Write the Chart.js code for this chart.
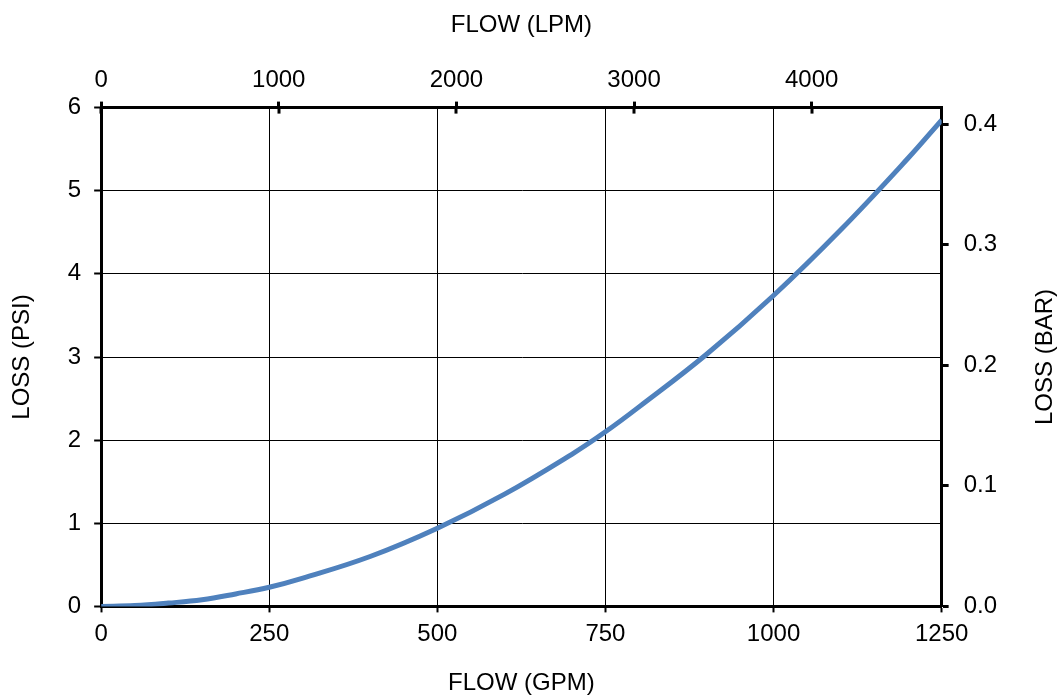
<!DOCTYPE html>
<html>
<head>
<meta charset="utf-8">
<script src="https://cdn.jsdelivr.net/npm/chart.js@4.4.1/dist/chart.umd.min.js"></script>
<style>
  html, body { margin: 0; padding: 0; background: #fff; }
  #wrap { width: 1064px; height: 698px; }
</style>
</head>
<body>
<div id="wrap"><canvas id="c" width="1064" height="698"></canvas></div>
<script>
// flow in GPM, loss in PSI
gpm  = [0, 50, 100, 150, 200, 250, 300, 400, 500, 600, 700, 750, 800, 900, 1000, 1100, 1200, 1250]
psi  = [0, 0.01, 0.04, 0.08, 0.15, 0.23, 0.34, 0.6, 0.94, 1.35, 1.83, 2.1, 2.4, 3.03, 3.74, 4.53, 5.39, 5.85]

gpmTicks = [0, 250, 500, 750, 1000, 1250]
psiTicks = [0, 1, 2, 3, 4, 5, 6]
lpmTicks = [0, 1000, 2000, 3000, 4000]
barTicks = [0, 0.1, 0.2, 0.3, 0.4]

LPM_PER_GPM = 3.78541
PSI_PER_BAR = 14.5038

pts = []
for (i = 0; i < gpm.length; i++) {
    pts.push({x: gpm[i], y: psi[i]})
}

fam = "'Liberation Sans', Arial, sans-serif"
font = {family: fam, size: 24}
black = '#000'

function setTicks(list) {
    return function(scale) {
        scale.ticks = list.map(v => ({value: v}))
    }
}

// short tick marks inside the top axis + right axis title (reads bottom to top)
extras = {
    id: 'extras',
    afterDraw(chart) {
        const s = chart.scales.x2
        const g = chart.ctx
        g.save()
        g.strokeStyle = black
        g.lineWidth = 3
        lpmTicks.forEach(v => {
            const px = Math.round(s.getPixelForValue(v))
            g.beginPath()
            g.moveTo(px, s.bottom)
            g.lineTo(px, s.bottom + 6)
            g.stroke()
        })
        const a = chart.chartArea
        g.translate(1045, (a.top + a.bottom) / 2)
        g.rotate(-Math.PI / 2)
        g.fillStyle = black
        g.font = '24px ' + fam
        g.textAlign = 'center'
        g.textBaseline = 'middle'
        g.fillText('LOSS (BAR)', 0, 0)
        g.restore()
    }
}

new Chart(document.getElementById('c').getContext('2d'), {
    type: 'scatter',
    data: {
        datasets: [{
            data: pts,
            showLine: true,
            borderColor: '#4f81bd',
            borderWidth: 5,
            pointRadius: 0,
            tension: 0.4,
            xAxisID: 'x',
            yAxisID: 'y'
        }]
    },
    options: {
        responsive: false,
        animation: false,
        layout: {padding: {left: 8, right: 52, top: 11, bottom: 0}},
        plugins: {legend: {display: false}, tooltip: {enabled: false}},
        scales: {
            x: {
                type: 'linear', position: 'bottom', min: 0, max: 1250,
                afterBuildTicks: setTicks(gpmTicks),
                grid: {color: black, lineWidth: 1, tickLength: 6, tickColor: black, tickWidth: 2},
                border: {color: black, width: 3},
                ticks: {color: black, font: font, padding: 8, maxRotation: 0, callback: v => String(v)},
                title: {display: true, text: 'FLOW (GPM)', color: black, font: font, padding: {top: 12, bottom: 0}}
            },
            x2: {
                type: 'linear', position: 'top', min: 0, max: 1250 * LPM_PER_GPM,
                afterBuildTicks: setTicks(lpmTicks),
                grid: {drawOnChartArea: false, tickLength: 6, tickColor: black, tickWidth: 3},
                border: {color: black, width: 3},
                ticks: {color: black, font: font, padding: 7, maxRotation: 0, callback: v => String(v)},
                title: {display: true, text: 'FLOW (LPM)', color: black, font: font, padding: {top: 0, bottom: 19}}
            },
            y: {
                type: 'linear', position: 'left', min: 0, max: 6,
                afterBuildTicks: setTicks(psiTicks),
                grid: {color: black, lineWidth: 1, tickLength: 7, tickColor: black, tickWidth: 2},
                border: {color: black, width: 3},
                ticks: {color: black, font: font, padding: 13},
                title: {display: true, text: 'LOSS (PSI)', color: black, font: font, padding: {top: 0, bottom: 18}}
            },
            y2: {
                type: 'linear', position: 'right', min: 0, max: 6 / PSI_PER_BAR,
                afterBuildTicks: setTicks(barTicks),
                grid: {drawOnChartArea: false, tickLength: 7, tickColor: black, tickWidth: 3},
                border: {color: black, width: 3},
                ticks: {color: black, font: font, padding: 15, callback: v => v.toFixed(1)}
            }
        }
    },
    plugins: [extras]
})
</script>
</body>
</html>
